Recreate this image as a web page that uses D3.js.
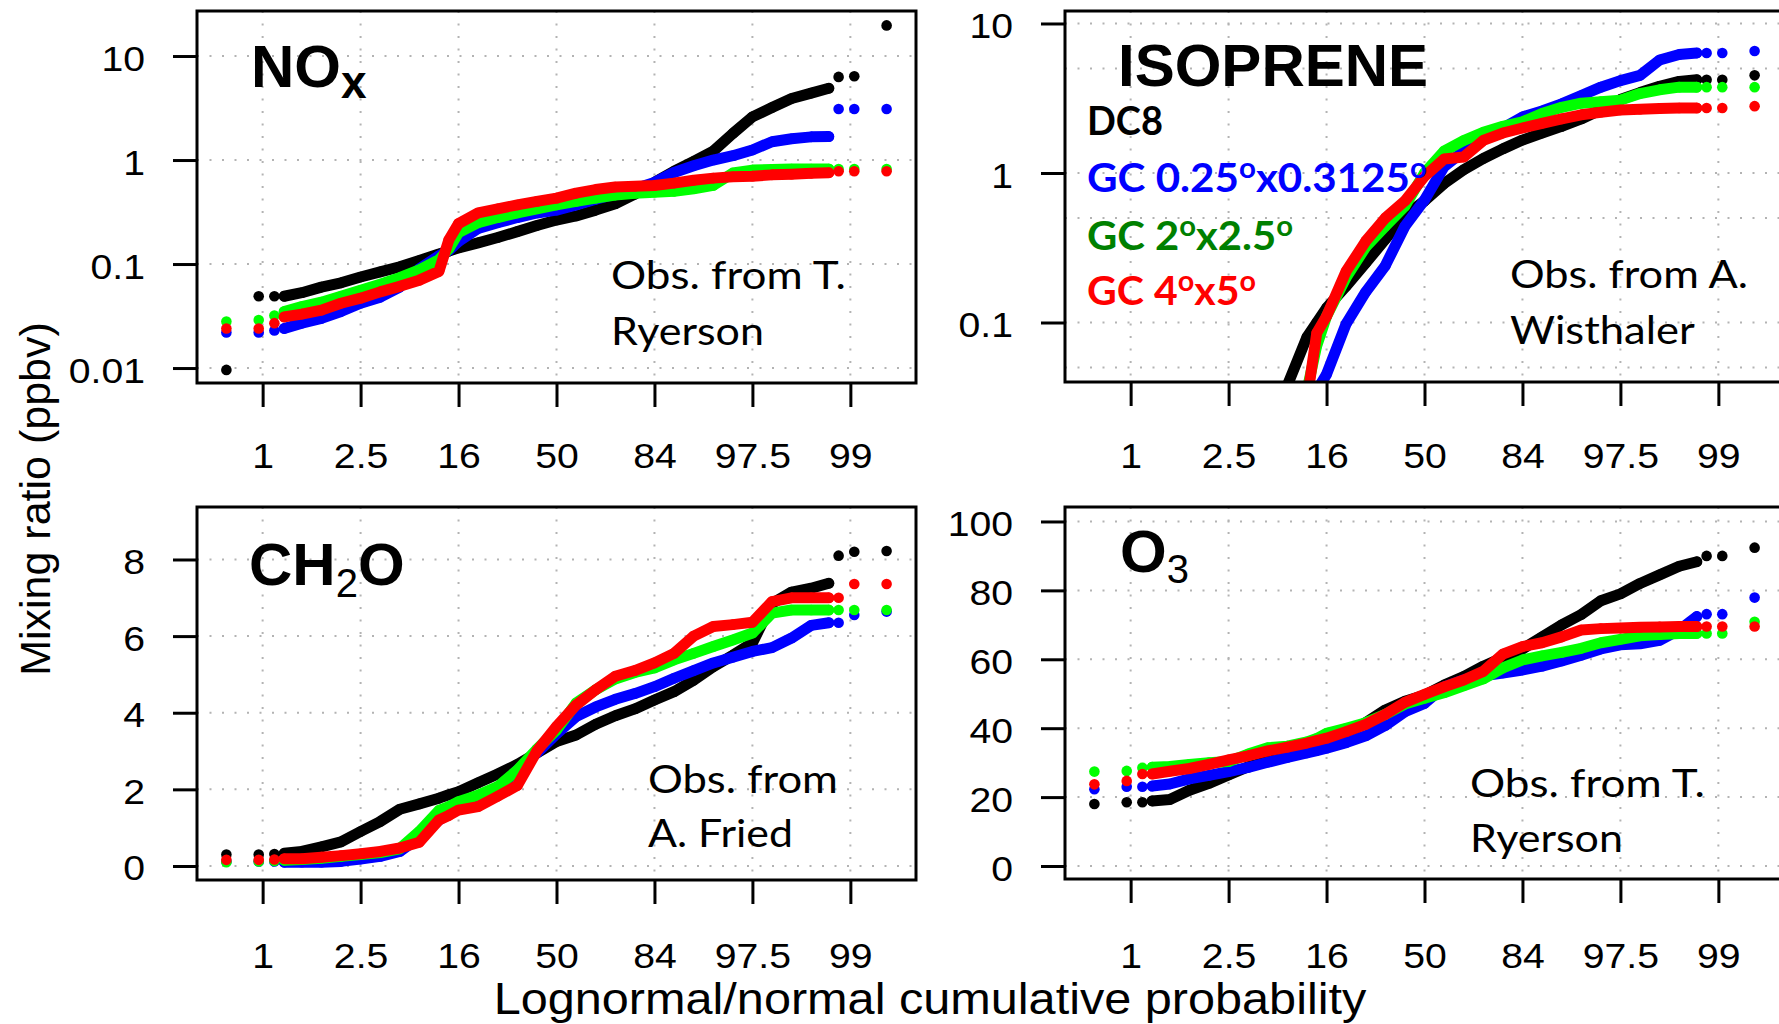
<!DOCTYPE html>
<meta charset="utf-8">
<style>
body { margin: 0; background: #fff; }
.grid line { stroke: #b3b3b3; stroke-width: 2; stroke-dasharray: 2,10.5; }
.frame { fill: none; stroke: #000; stroke-width: 3; }
.axis line { stroke: #000; stroke-width: 3; }
.axis path { display: none; }
.axis text { font-family: "Liberation Sans", Arial, sans-serif; font-size: 35px; fill: #000; }
.title { font-family: "Liberation Sans", Arial, sans-serif; font-weight: bold; font-size: 60px; }
.note { font-family: Lato, sans-serif; font-size: 38px; }
.legend { font-family: Lato, sans-serif; font-weight: bold; font-size: 40px; }
.band { fill: none; stroke-width: 11; stroke-linejoin: round; stroke-linecap: round; }
.lab { font-family: "Liberation Sans", Arial, sans-serif; font-size: 44px; }
</style>
<body>
<script src="https://d3js.org/d3.v7.min.js"></script>
<script>
// normal-quantile positions of the plotted points (tails + body)
var zPos = [-3.37, -3.04, -2.88, -2.78, -2.6, -2.4, -2.2, -2.0, -1.8, -1.6, -1.4, -1.2, -1.1, -1.0,
  -0.8, -0.6, -0.4, -0.2, 0, 0.2, 0.4, 0.6, 0.8, 1.0, 1.2, 1.4, 1.6, 1.8, 2.0, 2.2, 2.4, 2.6, 2.78,
  2.88, 3.04, 3.37];
var probTicks = [-3, -2, -1, 0, 1, 2, 3];
var probLabels = ["1", "2.5", "16", "50", "84", "97.5", "99"];

var seriesNames = ["DC8", "GC 0.25°x0.3125°", "GC 2°x2.5°", "GC 4°x5°"];
var dotColors = ["#000000", "#0000ff", "#00ff00", "#ff0000"];
var legendColors = ["#000000", "#0000ff", "#008000", "#ff0000"];

// NOx (ppbv)
var noxDC8 = [0.0096, 0.049, 0.049, 0.049, 0.053, 0.06, 0.066, 0.075, 0.084, 0.094, 0.108, 0.125, 0.133, 0.143,
  0.16, 0.18, 0.205, 0.235, 0.265, 0.29, 0.33, 0.38, 0.47, 0.61, 0.78, 0.97, 1.22, 1.8, 2.6, 3.2, 3.9, 4.4, 4.9,
  6.3, 6.4, 19.7];
var noxGC025 = [0.022, 0.022, 0.023, 0.024, 0.027, 0.03, 0.035, 0.042, 0.048, 0.06, 0.09, 0.12, 0.135, 0.165,
  0.22, 0.25, 0.28, 0.31, 0.33, 0.37, 0.42, 0.47, 0.53, 0.61, 0.76, 0.88, 1.0, 1.1, 1.25, 1.5, 1.6, 1.67, 1.68,
  3.1, 3.1, 3.1];
var noxGC2 = [0.028, 0.029, 0.032, 0.035, 0.039, 0.043, 0.049, 0.056, 0.064, 0.074, 0.088, 0.11, 0.14, 0.2,
  0.25, 0.28, 0.31, 0.34, 0.37, 0.40, 0.43, 0.46, 0.48, 0.49, 0.5, 0.53, 0.57, 0.75, 0.80, 0.81, 0.82, 0.82, 0.82,
  0.82, 0.82, 0.82];
var noxGC4 = [0.024, 0.024, 0.027, 0.031, 0.033, 0.036, 0.042, 0.047, 0.054, 0.061, 0.07, 0.085, 0.17, 0.245,
  0.31, 0.34, 0.37, 0.40, 0.43, 0.48, 0.52, 0.55, 0.56, 0.57, 0.6, 0.64, 0.67, 0.69, 0.70, 0.72, 0.73, 0.745, 0.755,
  0.78, 0.78, 0.78];

// Isoprene (ppbv), null = below the plotted range
var isoDC8 = [null, null, null, null, null, null, null, null, null, null, 0.038, 0.08, 0.1, 0.125,
  0.175, 0.25, 0.36, 0.52, 0.65, 0.85, 1.05, 1.25, 1.45, 1.66, 1.85, 2.05, 2.3, 2.65, 3.1, 3.45, 3.8, 4.1, 4.2,
  4.2, 4.2, 4.5];
var isoGC025 = [null, null, null, null, null, null, null, null, null, null, null, null, 0.035, 0.045,
  0.098, 0.16, 0.24, 0.44, 0.66, 1.1, 1.4, 1.7, 2.0, 2.37, 2.6, 2.9, 3.3, 3.75, 4.15, 4.5, 5.7, 6.2, 6.35,
  6.35, 6.35, 6.55];
var isoGC2 = [null, null, null, null, null, null, null, null, null, null, null, 0.035, 0.07, 0.11,
  0.2, 0.32, 0.44, 0.6, 1.0, 1.4, 1.65, 1.87, 2.05, 2.2, 2.5, 2.75, 2.93, 3.0, 3.07, 3.4, 3.6, 3.75, 3.75,
  3.75, 3.75, 3.75];
var isoGC4 = [null, null, null, null, null, null, null, null, null, null, null, 0.03, 0.085, 0.11,
  0.22, 0.35, 0.5, 0.65, 0.95, 1.24, 1.28, 1.65, 1.85, 2.0, 2.15, 2.3, 2.45, 2.55, 2.64, 2.67, 2.7, 2.72, 2.72,
  2.72, 2.72, 2.8];

// CH2O (ppbv)
var ch2oDC8 = [0.3, 0.3, 0.31, 0.33, 0.38, 0.5, 0.63, 0.9, 1.16, 1.48, 1.62, 1.77, 1.86, 1.94,
  2.17, 2.4, 2.65, 2.95, 3.25, 3.42, 3.7, 3.92, 4.1, 4.33, 4.55, 4.85, 5.2, 5.5, 5.82, 6.85, 7.15, 7.25, 7.38,
  8.1, 8.2, 8.22];
var ch2oGC025 = [0.12, 0.12, 0.12, 0.1, 0.1, 0.1, 0.12, 0.18, 0.25, 0.38, 0.75, 1.2, 1.35, 1.55,
  1.75, 2.0, 2.5, 2.95, 3.45, 3.9, 4.15, 4.35, 4.5, 4.68, 4.9, 5.1, 5.3, 5.45, 5.6, 5.7, 5.95, 6.28, 6.35,
  6.35, 6.55, 6.64];
var ch2oGC2 = [0.1, 0.12, 0.13, 0.15, 0.17, 0.2, 0.25, 0.3, 0.35, 0.45, 0.9, 1.45, 1.55, 1.68,
  1.85, 2.07, 2.5, 3.05, 3.55, 4.25, 4.6, 4.88, 5.05, 5.17, 5.38, 5.55, 5.73, 5.9, 6.08, 6.6, 6.68, 6.68, 6.68,
  6.68, 6.68, 6.68];
var ch2oGC4 = [0.16, 0.16, 0.17, 0.19, 0.19, 0.23, 0.27, 0.32, 0.38, 0.47, 0.62, 1.2, 1.32, 1.46,
  1.55, 1.82, 2.1, 3.0, 3.64, 4.2, 4.6, 4.95, 5.1, 5.3, 5.55, 6.0, 6.25, 6.3, 6.36, 6.9, 7.0, 7.0, 7.0,
  7.0, 7.36, 7.36];

// O3 (ppbv)
var o3DC8 = [18.0, 18.5, 18.5, 18.9, 19.3, 22, 24, 26.4, 28.8, 30.4, 32, 33.6, 34.6, 35.6,
  38.5, 41.6, 45.3, 47.8, 49.6, 52.5, 55, 58, 60.5, 63, 66.5, 70, 73, 77, 79, 82, 84.5, 87, 88.3,
  90, 90, 92.4];
var o3GC025 = [22.3, 23, 23, 23.2, 23.8, 25.3, 26.3, 27.4, 28.6, 30.1, 31.5, 32.8, 33.5, 34.2,
  35.8, 37.8, 40.8, 44.8, 47.2, 52, 54, 55.2, 56, 56.9, 58, 59.5, 61.2, 63, 64.2, 64.5, 65.5, 68.5, 72.4,
  73.1, 73.1, 77.9];
var o3GC2 = [27.4, 27.6, 28.5, 28.7, 28.9, 29.5, 30, 30.3, 32.5, 34.3, 34.8, 36, 37, 38.5,
  40, 41.6, 44, 47, 48.7, 50.3, 52.3, 54.3, 57.5, 59.8, 61, 62, 63.2, 64.8, 65.8, 66.8, 67.2, 67.5, 67.5,
  67.5, 67.5, 70.9];
var o3GC4 = [23.7, 24.7, 26.7, 26.7, 27.5, 28.3, 29.5, 30.8, 32, 33.4, 34.5, 35.7, 36.4, 37.1,
  39, 41.1, 44, 47.5, 49.8, 52, 54, 56.5, 61.5, 63.7, 64.8, 66.5, 68.5, 68.9, 69.1, 69.3, 69.4, 69.5, 69.5,
  69.5, 69.5, 69.5];

var noxTicks = [0.01, 0.1, 1, 10], noxTickLabels = ["0.01", "0.1", "1", "10"];
var isoTicks = [0.1, 1, 10], isoTickLabels = ["0.1", "1", "10"], isoGrid = [0.05, 0.1, 0.5, 1, 5, 10];
var ch2oTicks = [0, 2, 4, 6, 8], ch2oTickLabels = ["0", "2", "4", "6", "8"];
var o3Ticks = [0, 20, 40, 60, 80, 100], o3TickLabels = ["0", "20", "40", "60", "80", "100"];

var svg = d3.select("body").append("svg")
    .attr("width", 1779)
    .attr("height", 1024);

var panels = [
  {id: "nox", x0: 197, x1: 916, y0: 11, y1: 383, log: true, dom: [0.00718, 27.1],
   ticks: noxTicks, labels: noxTickLabels, grid: noxTicks, data: [noxDC8, noxGC025, noxGC2, noxGC4], base: 468},
  {id: "iso", x0: 1065, x1: 1784, y0: 11, y1: 382, log: true, dom: [0.04, 12.12],
   ticks: isoTicks, labels: isoTickLabels, grid: isoGrid, data: [isoDC8, isoGC025, isoGC2, isoGC4], base: 468},
  {id: "ch2o", x0: 197, x1: 916, y0: 507, y1: 880, log: false, dom: [-0.366, 9.37],
   ticks: ch2oTicks, labels: ch2oTickLabels, grid: ch2oTicks, data: [ch2oDC8, ch2oGC025, ch2oGC2, ch2oGC4], base: 968},
  {id: "o3", x0: 1065, x1: 1784, y0: 507, y1: 879, log: false, dom: [-3.77, 104.2],
   ticks: o3Ticks, labels: o3TickLabels, grid: o3Ticks, data: [o3DC8, o3GC025, o3GC2, o3GC4], base: 968}
];

var stretch = 1.12;

panels.forEach(function(p) {
  var x = d3.scaleLinear().domain([-3.67, 3.67]).range([p.x0, p.x1]);
  var y = (p.log ? d3.scaleLog() : d3.scaleLinear()).domain(p.dom).range([p.y1, p.y0]);
  var g = svg.append("g");

  svg.append("clipPath").attr("id", "clip-" + p.id)
    .append("rect").attr("x", p.x0).attr("y", p.y0)
    .attr("width", p.x1 - p.x0).attr("height", p.y1 - p.y0);

  // dotted grid
  var grid = g.append("g").attr("class", "grid");
  grid.selectAll(".gv").data(probTicks).enter().append("line")
    .attr("x1", function(d) { return x(d); }).attr("x2", function(d) { return x(d); })
    .attr("y1", p.y0).attr("y2", p.y1);
  grid.selectAll(".gh").data(p.grid).enter().append("line")
    .attr("y1", function(d) { return y(d); }).attr("y2", function(d) { return y(d); })
    .attr("x1", p.x0).attr("x2", p.x1);

  // series: thick body through the dots + the dots themselves
  var plot = g.append("g").attr("clip-path", "url(#clip-" + p.id + ")");
  var line = d3.line()
    .defined(function(d) { return d.v != null; })
    .x(function(d) { return x(d.z); })
    .y(function(d) { return y(d.v); });

  p.data.forEach(function(vals, k) {
    var pts = vals.map(function(v, i) { return {z: zPos[i], v: v}; });
    var body = pts.filter(function(d) { return Math.abs(d.z) < 2.8; });
    plot.append("path").datum(body).attr("class", "band")
      .attr("stroke", dotColors[k]).attr("d", line);
    plot.selectAll(".dot" + k).data(pts.filter(function(d) { return d.v != null; }))
      .enter().append("circle")
      .attr("cx", function(d) { return x(d.z); })
      .attr("cy", function(d) { return y(d.v); })
      .attr("r", 5.3)
      .attr("fill", dotColors[k]);
  });

  g.append("rect").attr("class", "frame")
    .attr("x", p.x0).attr("y", p.y0)
    .attr("width", p.x1 - p.x0).attr("height", p.y1 - p.y0);

  // axes
  var gx = g.append("g").attr("class", "axis")
    .attr("transform", "translate(0," + p.y1 + ")")
    .call(d3.axisBottom(x).tickValues(probTicks)
      .tickFormat(function(d, i) { return probLabels[i]; }).tickSize(24));
  gx.selectAll("text").attr("y", 0).attr("dy", null)
    .attr("transform", "translate(0," + (p.base - p.y1) + ") scale(" + stretch + ",1)");

  var gy = g.append("g").attr("class", "axis")
    .attr("transform", "translate(" + p.x0 + ",0)")
    .call(d3.axisLeft(y).tickValues(p.ticks)
      .tickFormat(function(d, i) { return p.labels[i]; }).tickSize(24));
  gy.selectAll("text").attr("x", 0).attr("dy", "0.4em")
    .attr("transform", "translate(-52,0) scale(" + stretch + ",1)");
});

// text helper: place text (degree signs as raised "o") and fit it to a given width
function putText(cls, x, y, str, width, color) {
  var t = svg.append("text").attr("class", cls)
    .attr("transform", "translate(" + x + "," + y + ")")
    .attr("fill", color || "#000");
  var parts = str.split("°");
  parts.forEach(function(s, i) {
    var sp = t.append("tspan").text(s);
    if (i > 0) sp.attr("dy", 14);
    if (i < parts.length - 1) {
      t.append("tspan").attr("font-size", "0.7em").attr("dy", -14).text("o");
    }
  });
  if (width) {
    var w = t.node().getBBox().width;
    t.attr("transform", "translate(" + x + "," + y + ") scale(" + (width / w) + ",1)");
  }
  return t;
}

// panel titles
var t1 = svg.append("text").attr("class", "title").attr("x", 251).attr("y", 87);
t1.append("tspan").text("NO");
t1.append("tspan").attr("font-size", 46).attr("dy", 11).text("x");

svg.append("text").attr("class", "title").attr("x", 1118).attr("y", 86).text("ISOPRENE");

var t3 = svg.append("text").attr("class", "title").attr("x", 249).attr("y", 585);
t3.append("tspan").text("CH");
t3.append("tspan").attr("font-size", 40).attr("font-weight", "normal").attr("dy", 12).text("2");
t3.append("tspan").attr("dy", -12).text("O");

var t4 = svg.append("text").attr("class", "title").attr("x", 1120).attr("y", 572);
t4.append("tspan").text("O");
t4.append("tspan").attr("font-size", 40).attr("font-weight", "normal").attr("dy", 11).text("3");

// legend
var legendY = [135, 192, 250, 305];
var legendW = [76, 340, 206, 169];
seriesNames.forEach(function(n, i) {
  putText("legend", 1087, legendY[i], n, legendW[i], legendColors[i]);
});

// observation credits
putText("note", 611, 289, "Obs. from T.", 235);
putText("note", 611, 345, "Ryerson", 153);
putText("note", 1510, 288, "Obs. from A.", 238);
putText("note", 1510, 344, "Wisthaler", 185);
putText("note", 648, 793, "Obs. from", 190);
putText("note", 648, 847, "A. Fried", 145);
putText("note", 1470, 797, "Obs. from T.", 235);
putText("note", 1470, 852, "Ryerson", 153);

// axis titles
svg.append("text").attr("class", "lab")
  .attr("text-anchor", "middle")
  .attr("transform", "translate(930,1014) scale(1.105,1)")
  .text("Lognormal/normal cumulative probability");

svg.append("text").attr("class", "lab")
  .attr("text-anchor", "middle")
  .style("font-size", "43px")
  .attr("transform", "translate(50,499) rotate(-90)")
  .text("Mixing ratio (ppbv)");
</script>
</body>
